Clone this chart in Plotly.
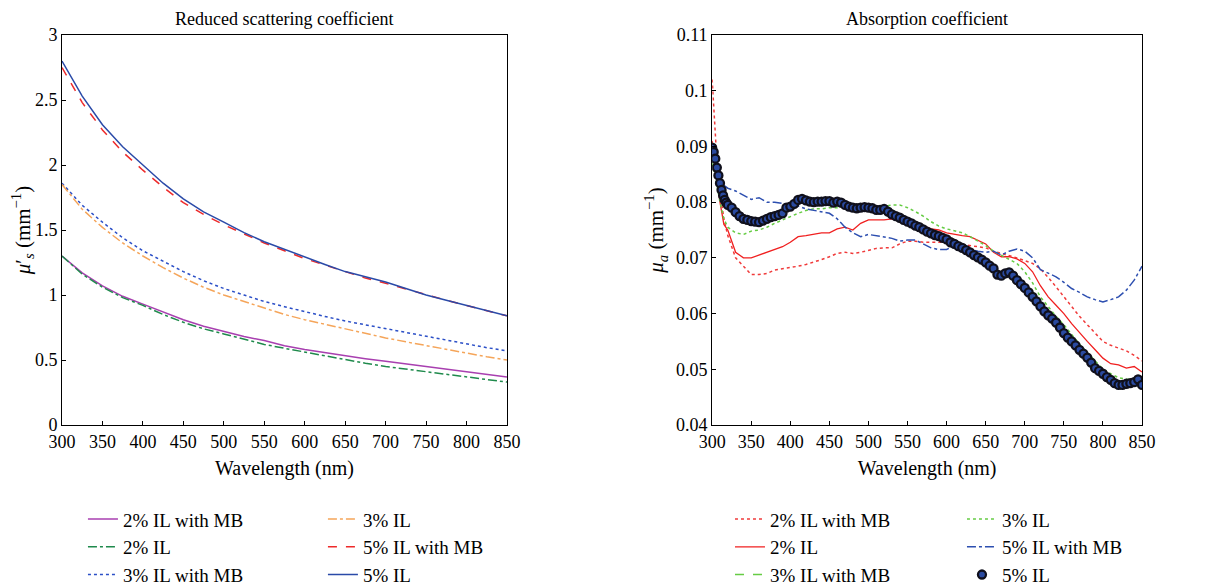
import plotly.graph_objects as go

# ---------------- Left panel: reduced scattering coefficient ----------------
wl_s = [300, 325, 350, 375, 400, 425, 450, 475, 500, 525, 550, 575, 600,
        625, 650, 675, 700, 725, 750, 775, 800, 825, 850]
s_2mb = [1.30, 1.17, 1.07, 0.99, 0.93, 0.87, 0.81, 0.76, 0.72, 0.68, 0.65, 0.61, 0.58,
         0.555, 0.53, 0.51, 0.49, 0.47, 0.45, 0.43, 0.41, 0.39, 0.37]
s_2 = [1.30, 1.16, 1.06, 0.98, 0.92, 0.85, 0.79, 0.74, 0.70, 0.66, 0.62, 0.59, 0.56,
       0.53, 0.50, 0.475, 0.45, 0.43, 0.41, 0.39, 0.37, 0.35, 0.33]
s_3mb = [1.86, 1.69, 1.56, 1.44, 1.34, 1.26, 1.18, 1.11, 1.05, 1.00, 0.95, 0.91, 0.87,
         0.835, 0.80, 0.77, 0.74, 0.71, 0.68, 0.65, 0.62, 0.595, 0.57]
s_3 = [1.85, 1.66, 1.52, 1.40, 1.30, 1.21, 1.13, 1.06, 1.00, 0.95, 0.90, 0.85, 0.81,
       0.775, 0.74, 0.70, 0.67, 0.64, 0.61, 0.58, 0.55, 0.525, 0.50]
s_5mb = [2.75, 2.48, 2.27, 2.10, 1.96, 1.83, 1.71, 1.62, 1.54, 1.47, 1.40, 1.34, 1.28,
         1.23, 1.18, 1.13, 1.09, 1.045, 1.00, 0.96, 0.92, 0.88, 0.84]
s_5 = [2.80, 2.53, 2.31, 2.14, 2.00, 1.86, 1.74, 1.64, 1.56, 1.48, 1.41, 1.35, 1.29,
       1.235, 1.18, 1.14, 1.10, 1.05, 1.00, 0.96, 0.92, 0.88, 0.84]

# ---------------- Right panel: absorption coefficient ----------------
wl_a = [300, 305, 310, 315, 320, 330, 340, 350, 360, 370, 380, 390, 400, 410, 420,
        430, 440, 450, 460, 470, 480, 490, 500, 510, 520, 530, 540, 550, 560, 570,
        580, 590, 600, 610, 620, 630, 640, 650, 660, 670, 680, 690, 700, 710, 720,
        730, 740, 750, 760, 770, 780, 790, 800, 810, 820, 830, 840, 850]
a_2mb = [0.102, 0.090, 0.082, 0.077, 0.074, 0.070, 0.0685, 0.067, 0.067, 0.0672, 0.0678,
         0.068, 0.0683, 0.0685, 0.0688, 0.0692, 0.0697, 0.0702, 0.0708, 0.071, 0.0708,
         0.071, 0.0713, 0.0717, 0.0718, 0.0718, 0.0725, 0.073, 0.073, 0.0728, 0.0728,
         0.0728, 0.0728, 0.0726, 0.0724, 0.0722, 0.072, 0.0718, 0.0712, 0.0708, 0.0705,
         0.070, 0.0695, 0.069, 0.068, 0.0665, 0.0648, 0.063, 0.0612, 0.0595, 0.058,
         0.0565, 0.055, 0.0543, 0.0538, 0.0533, 0.0525, 0.0515]
a_2 = [0.091, 0.085, 0.080, 0.076, 0.075, 0.071, 0.070, 0.070, 0.0705, 0.071, 0.0715,
       0.072, 0.0728, 0.0738, 0.074, 0.0743, 0.0745, 0.0745, 0.0752, 0.0755, 0.075,
       0.0762, 0.0768, 0.0768, 0.0768, 0.077, 0.0768, 0.0765, 0.0762, 0.0758, 0.0752,
       0.075, 0.0745, 0.0742, 0.074, 0.0738, 0.0732, 0.0725, 0.071, 0.0702, 0.0702,
       0.0698, 0.069, 0.0675, 0.065, 0.063, 0.0615, 0.060, 0.0582, 0.0565, 0.055,
       0.0535, 0.052, 0.051, 0.0508, 0.0502, 0.0505, 0.0495]
a_3mb = [None]   # listed in the legend, not visible in the plotted area
a_3 = [0.087, 0.084, 0.080, 0.077, 0.0755, 0.0745, 0.0742, 0.0748, 0.075, 0.0755,
       0.0762, 0.0768, 0.0775, 0.078, 0.0785, 0.0788, 0.0788, 0.079, 0.079, 0.0792,
       0.079, 0.0792, 0.0795, 0.079, 0.0792, 0.0795, 0.0795, 0.079, 0.0783, 0.0775,
       0.0765, 0.0757, 0.0752, 0.0748, 0.0745, 0.0738, 0.073, 0.0722, 0.0712, 0.0705,
       0.0698, 0.069, 0.0675, 0.0655, 0.063, 0.0612, 0.0595, 0.058, 0.0562, 0.0545,
       0.053, 0.0515, 0.050, 0.0492, 0.0485, 0.0482, 0.0482, 0.0478]
a_5mb = [0.089, 0.086, 0.0835, 0.083, 0.0825, 0.082, 0.0812, 0.0805, 0.0808, 0.080,
         0.080, 0.0798, 0.0795, 0.0793, 0.0788, 0.0785, 0.0782, 0.078, 0.077, 0.0755,
         0.0745, 0.0738, 0.0742, 0.074, 0.0738, 0.0735, 0.073, 0.0732, 0.0732, 0.0725,
         0.0718, 0.0715, 0.0715, 0.0722, 0.0718, 0.0715, 0.0712, 0.071, 0.0712, 0.0705,
         0.0712, 0.0716, 0.0712, 0.070, 0.0679, 0.0672, 0.0666, 0.0656, 0.0645, 0.0638,
         0.063, 0.0625, 0.0621, 0.0625, 0.063, 0.0642, 0.066, 0.0685]

wl_m = [300, 302, 304, 306, 308, 310, 312, 314, 316, 318, 320, 325, 330, 335, 340,
        345, 350, 355, 360, 365, 370,
        375, 380, 385, 390, 395, 400, 405, 410, 415, 420, 425, 430, 435, 440, 445,
        450, 455, 460, 465, 470, 475, 480, 485, 490, 495, 500, 505, 510, 515, 520,
        525, 530, 535, 540, 545, 550, 555, 560, 565, 570, 575, 580, 585, 590, 595,
        600, 605, 610, 615, 620, 625, 630, 635, 640, 645, 650, 655, 660, 665, 670,
        675, 680, 685, 690, 695, 700, 705, 710, 715, 720, 725, 730, 735, 740, 745,
        750, 755, 760, 765, 770, 775, 780, 785, 790, 795, 800, 805, 810, 815, 820,
        825, 830, 835, 840, 845, 850]
a_5 = [0.0898, 0.0890, 0.0878, 0.0862, 0.0848, 0.0834, 0.0822, 0.0812, 0.0804, 0.0799,
       0.0795, 0.079, 0.0782, 0.0775, 0.077, 0.0768,
       0.0766, 0.0765, 0.0764, 0.0767, 0.077, 0.0773, 0.0775, 0.0777, 0.078, 0.079,
       0.0792, 0.0797, 0.0804, 0.0806, 0.0803, 0.0801, 0.080, 0.0801, 0.0801, 0.0802,
       0.0802, 0.0799, 0.0801, 0.0799, 0.0795, 0.0792, 0.079, 0.0789, 0.079, 0.0791,
       0.079, 0.0789, 0.0786, 0.0786, 0.0788, 0.0783, 0.0778, 0.0775, 0.0772, 0.0768,
       0.0765, 0.0762, 0.0758, 0.0755, 0.0751, 0.0747, 0.0744, 0.0741, 0.0739, 0.0736,
       0.0733, 0.0728, 0.0725, 0.0721, 0.0718, 0.0714, 0.071, 0.0705, 0.0701, 0.0697,
       0.0692, 0.0686, 0.0681, 0.067, 0.0668, 0.0672, 0.0674, 0.0668, 0.066, 0.0653,
       0.0646, 0.0638, 0.063, 0.0622, 0.0613, 0.0604, 0.0597, 0.0591, 0.0584, 0.0575,
       0.0565, 0.0557, 0.055, 0.0543, 0.0535, 0.0528, 0.0521, 0.0512, 0.0502, 0.0497,
       0.0492, 0.0486, 0.0481, 0.0475, 0.0472, 0.0472, 0.0474, 0.0475, 0.0477, 0.0482,
       0.0472]

FONT = "Liberation Serif"
fig = go.Figure()

def line(x, y, name, color, dash, width, xa, ya, leg):
    fig.add_trace(go.Scatter(x=x, y=y, mode="lines", name=name,
                             line=dict(color=color, dash=dash, width=width),
                             xaxis=xa, yaxis=ya, legend=leg))

# Left panel
line(wl_s, s_2mb, "2% IL with MB", "#a83fb0", "solid", 1.5, "x", "y", "legend")
line(wl_s, s_2, "2% IL", "#1f8a4c", "dashdot", 1.5, "x", "y", "legend")
line(wl_s, s_3mb, "3% IL with MB", "#2b4fc7", "dot", 1.5, "x", "y", "legend")
line(wl_s, s_3, "3% IL", "#f5a55a", "dashdot", 1.5, "x", "y", "legend2")
line(wl_s, s_5mb, "5% IL with MB", "#ee2a2a", "dash", 1.5, "x", "y", "legend2")
line(wl_s, s_5, "5% IL", "#2a4aa8", "solid", 1.5, "x", "y", "legend2")

# Right panel
line(wl_a, a_2mb, "2% IL with MB", "#f03a3a", "dot", 1.5, "x2", "y2", "legend3")
line(wl_a, a_2, "2% IL", "#f02020", "solid", 1.3, "x2", "y2", "legend3")
line(a_3mb, a_3mb, "3% IL with MB", "#66cc44", "dash", 1.5, "x2", "y2", "legend3")
line(wl_a, a_3, "3% IL", "#66cc44", "dot", 1.5, "x2", "y2", "legend4")
line(wl_a, a_5mb, "5% IL with MB", "#2d4fb0", "dashdot", 1.5, "x2", "y2", "legend4")
fig.add_trace(go.Scatter(x=wl_m, y=a_5, mode="markers", name="5% IL",
                         marker=dict(size=8, color="#2a4aa0",
                                     line=dict(color="#10101c", width=2.3)),
                         xaxis="x2", yaxis="y2", legend="legend4"))

axis_common = dict(showline=True, linecolor="black", linewidth=1, mirror=True,
                   showgrid=False, zeroline=False, ticks="inside", ticklen=4,
                   tickcolor="black", tickfont=dict(family=FONT, size=18, color="black"))

LEG_Y = -0.193
def leg(x):
    return dict(orientation="v", x=x, xanchor="left", y=LEG_Y, yanchor="top",
                font=dict(family=FONT, size=19), bgcolor="rgba(0,0,0,0)",
                tracegroupgap=0)

fig.update_layout(
    width=1221, height=585,
    paper_bgcolor="white", plot_bgcolor="white",
    margin=dict(l=54, r=87, t=27, b=168, autoexpand=False),
    font=dict(family=FONT, size=17, color="black"),
    xaxis=dict(domain=[0, 0.412], range=[300, 850], tickvals=list(range(300, 851, 50)),
               title=dict(text="Wavelength (nm)", font=dict(size=20), standoff=10),
               **axis_common),
    yaxis=dict(range=[0, 3], tickvals=[0, 0.5, 1, 1.5, 2, 2.5, 3],
               ticktext=["0", "0.5", "1", "1.5", "2", "2.5", "3"],
               title=dict(text="<i>μ</i>′<sub><i>s</i></sub> (mm<sup>−1</sup>)",
                          font=dict(size=21), standoff=6),
               **axis_common),
    xaxis2=dict(domain=[0.602, 1.0], range=[300, 850], tickvals=list(range(300, 851, 50)),
                anchor="y2",
                title=dict(text="Wavelength (nm)", font=dict(size=20), standoff=10),
                **axis_common),
    yaxis2=dict(range=[0.04, 0.11], anchor="x2",
                tickvals=[0.04, 0.05, 0.06, 0.07, 0.08, 0.09, 0.1, 0.11],
                ticktext=["0.04", "0.05", "0.06", "0.07", "0.08", "0.09", "0.1", "0.11"],
                title=dict(text="<i>μ<sub>a</sub></i> (mm<sup>−1</sup>)",
                           font=dict(size=21), standoff=6),
                **axis_common),
    legend=leg(0.0194),
    legend2=leg(0.2416),
    legend3=leg(0.6185),
    legend4=leg(0.8333),
    showlegend=True,
    annotations=[
        dict(text="Reduced scattering coefficient", x=0.206, y=1.0, xref="paper",
             yref="paper", xanchor="center", yanchor="bottom", yshift=4,
             showarrow=False, font=dict(family=FONT, size=18)),
        dict(text="Absorption coefficient", x=0.801, y=1.0, xref="paper",
             yref="paper", xanchor="center", yanchor="bottom", yshift=4,
             showarrow=False, font=dict(family=FONT, size=18)),
    ],
)

fig.write_html("out.html")
